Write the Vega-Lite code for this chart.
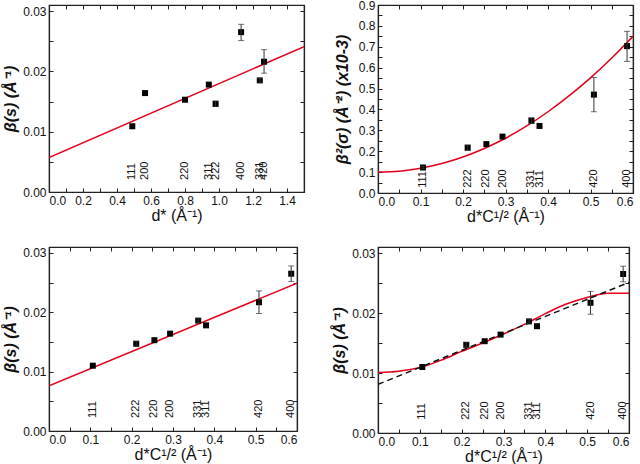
{
  "$schema": "https://vega.github.io/schema/vega-lite/v6.json",
  "padding": {"left": 2, "top": -2, "right": 0, "bottom": 0},
  "background": "white",
  "config": {
    "font": "Liberation Sans",
    "view": {"stroke": "#222", "strokeWidth": 1.2},
    "axis": {"grid": false, "domainColor": "#222", "domainWidth": 1.2, "tickColor": "#222", "tickWidth": 1, "labelFont": "Liberation Sans", "labelFontSize": 12, "labelColor": "#111", "titleFont": "Liberation Sans", "titleFontSize": 16, "titleColor": "#111", "titleFontWeight": "normal", "labelPadding": 7},
    "text": {"font": "Liberation Sans"}
  },
  "datasets": {
    "pa": [
      {"hkl": "111", "x": 0.49, "y": 0.0109},
      {"hkl": "200", "x": 0.565, "y": 0.0164},
      {"hkl": "220", "x": 0.80, "y": 0.0153},
      {"hkl": "311", "x": 0.94, "y": 0.0178},
      {"hkl": "222", "x": 0.98, "y": 0.0146, "lo": 0.0142, "hi": 0.0151},
      {"hkl": "400", "x": 1.13, "y": 0.0265, "lo": 0.0251, "hi": 0.0278},
      {"hkl": "331", "x": 1.24, "y": 0.0185, "lo": 0.0182, "hi": 0.0188},
      {"hkl": "420", "x": 1.265, "y": 0.0216, "lo": 0.0197, "hi": 0.0236}
    ],
    "fa": [{"x": 0, "y": 0.0057}, {"x": 1.5, "y": 0.0241}],
    "pb": [
      {"hkl": "111", "x": 0.106, "y": 0.0110},
      {"hkl": "222", "x": 0.211, "y": 0.0147, "lo": 0.0143, "hi": 0.0151},
      {"hkl": "220", "x": 0.255, "y": 0.0153},
      {"hkl": "200", "x": 0.293, "y": 0.0164},
      {"hkl": "331", "x": 0.361, "y": 0.0186, "lo": 0.0183, "hi": 0.0189},
      {"hkl": "311", "x": 0.380, "y": 0.0178},
      {"hkl": "420", "x": 0.508, "y": 0.0217, "lo": 0.0198, "hi": 0.0236},
      {"hkl": "400", "x": 0.586, "y": 0.0265, "lo": 0.0252, "hi": 0.0278}
    ],
    "fb": [{"x": 0, "y": 0.0076}, {"x": 0.6, "y": 0.0249}],
    "pc": [
      {"hkl": "111", "x": 0.106, "y": 0.122, "lo": 0.116, "hi": 0.127},
      {"hkl": "222", "x": 0.211, "y": 0.217, "lo": 0.205, "hi": 0.229},
      {"hkl": "220", "x": 0.255, "y": 0.234},
      {"hkl": "200", "x": 0.293, "y": 0.270},
      {"hkl": "331", "x": 0.361, "y": 0.346, "lo": 0.333, "hi": 0.360},
      {"hkl": "311", "x": 0.380, "y": 0.321},
      {"hkl": "420", "x": 0.508, "y": 0.471, "lo": 0.389, "hi": 0.553},
      {"hkl": "400", "x": 0.586, "y": 0.703, "lo": 0.630, "hi": 0.774}
    ],
    "fc": [
      {"x": 0, "y": 0.100}, {"x": 0.05, "y": 0.104}, {"x": 0.1, "y": 0.118}, {"x": 0.15, "y": 0.141},
      {"x": 0.2, "y": 0.172}, {"x": 0.25, "y": 0.213}, {"x": 0.3, "y": 0.262}, {"x": 0.35, "y": 0.321},
      {"x": 0.4, "y": 0.389}, {"x": 0.45, "y": 0.466}, {"x": 0.5, "y": 0.551}, {"x": 0.55, "y": 0.646},
      {"x": 0.6, "y": 0.750}
    ],
    "fd": [
      {"x": 0, "y": 0.0101}, {"x": 0.05, "y": 0.0103}, {"x": 0.1, "y": 0.0109}, {"x": 0.15, "y": 0.0121},
      {"x": 0.2, "y": 0.0136}, {"x": 0.25, "y": 0.0150}, {"x": 0.3, "y": 0.0165}, {"x": 0.35, "y": 0.0181},
      {"x": 0.4, "y": 0.0199}, {"x": 0.45, "y": 0.0215}, {"x": 0.5, "y": 0.0226}, {"x": 0.55, "y": 0.0233},
      {"x": 0.6, "y": 0.0233}
    ],
    "fd2": [{"x": 0, "y": 0.0081}, {"x": 0.6, "y": 0.0251}]
  },
  "columns": 2,
  "spacing": {"row": 20, "column": 25},
  "concat": [
    {
      "width": 255, "height": 187,
      "resolve": {"axis": {"x": "independent", "y": "independent"}},
      "layer": [
        {"data": {"name": "fa"}, "mark": {"type": "line", "color": "#e3001b", "strokeWidth": 1.5, "clip": true},
          "encoding": {
            "x": {"field": "x", "type": "quantitative", "scale": {"domain": [0, 1.5], "nice": false},
              "axis": {"orient": "top", "values": [0,0.1,0.2,0.3,0.4,0.5,0.6,0.7,0.8,0.9,1,1.1,1.2,1.3,1.4,1.5], "labels": false, "title": null, "tickSize": -4, "minExtent": 0, "maxExtent": 0}},
            "y": {"field": "y", "type": "quantitative", "scale": {"domain": [0, 0.031], "nice": false},
              "axis": {"orient": "right", "values": [0,0.005,0.01,0.015,0.02,0.025,0.03], "labels": false, "title": null, "tickSize": -4, "minExtent": 0, "maxExtent": 0}}}},
        {"data": {"name": "pa"}, "mark": {"type": "square", "size": 36, "color": "black", "opacity": 1},
          "encoding": {
            "x": {"field": "x", "type": "quantitative",
              "axis": {"orient": "bottom", "values": [0,0.1,0.2,0.3,0.4,0.5,0.6,0.7,0.8,0.9,1,1.1,1.2,1.3,1.4,1.5], "labelExpr": "round(datum.value*10)%2==0 ? format(datum.value,'.1f') : ''", "tickSize": -4, "title": "d* (Å⁻¹)", "titlePadding": 1}},
            "y": {"field": "y", "type": "quantitative",
              "axis": {"orient": "left", "values": [0,0.005,0.01,0.015,0.02,0.025,0.03], "labelExpr": "round(datum.value*1000)%10==0 ? format(datum.value,'.2f') : ''", "tickSize": -4, "title": "β(s)  (Å⁻¹)", "titleFontStyle": "italic", "titleFontWeight": "bold", "titlePadding": 4}}}},
        {"data": {"name": "pa"}, "transform": [{"filter": "isValid(datum.lo)"}],
          "mark": {"type": "errorbar", "ticks": {"size": 6}, "color": "#333", "thickness": 1},
          "encoding": {"x": {"field": "x", "type": "quantitative", "axis": null}, "y": {"field": "lo", "type": "quantitative", "axis": null}, "y2": {"field": "hi"}}},
        {"data": {"name": "pa"}, "mark": {"type": "text", "angle": 270, "align": "left", "baseline": "middle", "fontSize": 11, "color": "#111"},
          "encoding": {"x": {"field": "x", "type": "quantitative", "axis": null}, "y": {"datum": 0.002, "type": "quantitative", "axis": null}, "text": {"field": "hkl"}}},
        {"mark": {"type": "text", "align": "left", "baseline": "middle", "fontSize": 15, "fontWeight": "bold", "color": "#111"},
          "encoding": {"x": {"datum": 0.05, "type": "quantitative", "axis": null}, "y": {"datum": 0.0275, "type": "quantitative", "axis": null}, "text": {"value": "(a)"}}}
      ]
    },
    {
      "width": 255, "height": 188,
      "resolve": {"axis": {"x": "independent", "y": "independent"}},
      "layer": [
        {"data": {"name": "fc"}, "mark": {"type": "line", "color": "#e3001b", "strokeWidth": 1.5, "interpolate": "monotone", "clip": true},
          "encoding": {
            "x": {"field": "x", "type": "quantitative", "scale": {"domain": [0, 0.6], "nice": false},
              "axis": {"orient": "top", "values": [0,0.05,0.1,0.15,0.2,0.25,0.3,0.35,0.4,0.45,0.5,0.55,0.6], "labels": false, "title": null, "tickSize": -4, "minExtent": 0, "maxExtent": 0}},
            "y": {"field": "y", "type": "quantitative", "scale": {"domain": [0, 0.9], "nice": false},
              "axis": {"orient": "right", "values": [0,0.05,0.1,0.15,0.2,0.25,0.3,0.35,0.4,0.45,0.5,0.55,0.6,0.65,0.7,0.75,0.8,0.85,0.9], "labels": false, "title": null, "tickSize": -4, "minExtent": 0, "maxExtent": 0}}}},
        {"data": {"name": "pc"}, "mark": {"type": "square", "size": 36, "color": "black", "opacity": 1},
          "encoding": {
            "x": {"field": "x", "type": "quantitative",
              "axis": {"orient": "bottom", "values": [0,0.05,0.1,0.15,0.2,0.25,0.3,0.35,0.4,0.45,0.5,0.55,0.6], "labelExpr": "round(datum.value*100)%10==0 ? format(datum.value,'.1f') : ''", "tickSize": -4, "title": "d*C¹/² (Å⁻¹)", "titlePadding": 1}},
            "y": {"field": "y", "type": "quantitative",
              "axis": {"orient": "left", "values": [0,0.05,0.1,0.15,0.2,0.25,0.3,0.35,0.4,0.45,0.5,0.55,0.6,0.65,0.7,0.75,0.8,0.85,0.9], "labelExpr": "round(datum.value*100)%10==0 ? format(datum.value,'.1f') : ''", "tickSize": -4, "title": "β²(σ)  (Å⁻²)   (x10-3)", "titleFontStyle": "italic", "titleFontWeight": "bold", "titlePadding": 8}}}},
        {"data": {"name": "pc"}, "transform": [{"filter": "isValid(datum.lo)"}],
          "mark": {"type": "errorbar", "ticks": {"size": 6}, "color": "#333", "thickness": 1},
          "encoding": {"x": {"field": "x", "type": "quantitative", "axis": null}, "y": {"field": "lo", "type": "quantitative", "axis": null}, "y2": {"field": "hi"}}},
        {"data": {"name": "pc"}, "mark": {"type": "text", "angle": 270, "align": "left", "baseline": "middle", "fontSize": 11, "color": "#111"},
          "encoding": {"x": {"field": "x", "type": "quantitative", "axis": null}, "y": {"datum": 0.025, "type": "quantitative", "axis": null}, "text": {"field": "hkl"}}},
        {"mark": {"type": "text", "align": "left", "baseline": "middle", "fontSize": 15, "fontWeight": "bold", "color": "#111"},
          "encoding": {"x": {"datum": 0.02, "type": "quantitative", "axis": null}, "y": {"datum": 0.795, "type": "quantitative", "axis": null}, "text": {"value": "(c)"}}}
      ]
    },
    {
      "width": 248, "height": 184,
      "resolve": {"axis": {"x": "independent", "y": "independent"}},
      "layer": [
        {"data": {"name": "fb"}, "mark": {"type": "line", "color": "#e3001b", "strokeWidth": 1.5, "clip": true},
          "encoding": {
            "x": {"field": "x", "type": "quantitative", "scale": {"domain": [0, 0.6], "nice": false},
              "axis": {"orient": "top", "values": [0,0.05,0.1,0.15,0.2,0.25,0.3,0.35,0.4,0.45,0.5,0.55,0.6], "labels": false, "title": null, "tickSize": -4, "minExtent": 0, "maxExtent": 0}},
            "y": {"field": "y", "type": "quantitative", "scale": {"domain": [0, 0.031], "nice": false},
              "axis": {"orient": "right", "values": [0,0.005,0.01,0.015,0.02,0.025,0.03], "labels": false, "title": null, "tickSize": -4, "minExtent": 0, "maxExtent": 0}}}},
        {"data": {"name": "pb"}, "mark": {"type": "square", "size": 36, "color": "black", "opacity": 1},
          "encoding": {
            "x": {"field": "x", "type": "quantitative",
              "axis": {"orient": "bottom", "values": [0,0.05,0.1,0.15,0.2,0.25,0.3,0.35,0.4,0.45,0.5,0.55,0.6], "labelExpr": "round(datum.value*100)%10==0 ? format(datum.value,'.1f') : ''", "tickSize": -4, "title": "d*C¹/² (Å⁻¹)", "titlePadding": 1}},
            "y": {"field": "y", "type": "quantitative",
              "axis": {"orient": "left", "values": [0,0.005,0.01,0.015,0.02,0.025,0.03], "labelExpr": "round(datum.value*1000)%10==0 ? format(datum.value,'.2f') : ''", "tickSize": -4, "title": "β(s)  (Å⁻¹)", "titleFontStyle": "italic", "titleFontWeight": "bold", "titlePadding": 4}}}},
        {"data": {"name": "pb"}, "transform": [{"filter": "isValid(datum.lo)"}],
          "mark": {"type": "errorbar", "ticks": {"size": 6}, "color": "#333", "thickness": 1},
          "encoding": {"x": {"field": "x", "type": "quantitative", "axis": null}, "y": {"field": "lo", "type": "quantitative", "axis": null}, "y2": {"field": "hi"}}},
        {"data": {"name": "pb"}, "mark": {"type": "text", "angle": 270, "align": "left", "baseline": "middle", "fontSize": 11, "color": "#111"},
          "encoding": {"x": {"field": "x", "type": "quantitative", "axis": null}, "y": {"datum": 0.0022, "type": "quantitative", "axis": null}, "text": {"field": "hkl"}}},
        {"mark": {"type": "text", "align": "left", "baseline": "middle", "fontSize": 15, "fontWeight": "bold", "color": "#111"},
          "encoding": {"x": {"datum": 0.02, "type": "quantitative", "axis": null}, "y": {"datum": 0.0275, "type": "quantitative", "axis": null}, "text": {"value": "(b)"}}}
      ]
    },
    {
      "width": 251, "height": 186,
      "resolve": {"axis": {"x": "independent", "y": "independent"}},
      "layer": [
        {"data": {"name": "fd"}, "mark": {"type": "line", "color": "#e3001b", "strokeWidth": 1.5, "interpolate": "monotone", "clip": true},
          "encoding": {
            "x": {"field": "x", "type": "quantitative", "scale": {"domain": [0, 0.6], "nice": false},
              "axis": {"orient": "top", "values": [0,0.05,0.1,0.15,0.2,0.25,0.3,0.35,0.4,0.45,0.5,0.55,0.6], "labels": false, "title": null, "tickSize": -4, "minExtent": 0, "maxExtent": 0}},
            "y": {"field": "y", "type": "quantitative", "scale": {"domain": [0, 0.031], "nice": false},
              "axis": {"orient": "right", "values": [0,0.005,0.01,0.015,0.02,0.025,0.03], "labels": false, "title": null, "tickSize": -4, "minExtent": 0, "maxExtent": 0}}}},
        {"data": {"name": "fd2"}, "mark": {"type": "line", "color": "#111", "strokeWidth": 1.5, "strokeDash": [6, 4], "clip": true},
          "encoding": {"x": {"field": "x", "type": "quantitative", "axis": null}, "y": {"field": "y", "type": "quantitative", "axis": null}}},
        {"data": {"name": "pb"}, "mark": {"type": "square", "size": 36, "color": "black", "opacity": 1},
          "encoding": {
            "x": {"field": "x", "type": "quantitative",
              "axis": {"orient": "bottom", "values": [0,0.05,0.1,0.15,0.2,0.25,0.3,0.35,0.4,0.45,0.5,0.55,0.6], "labelExpr": "round(datum.value*100)%10==0 ? format(datum.value,'.1f') : ''", "tickSize": -4, "title": "d*C¹/² (Å⁻¹)", "titlePadding": 1}},
            "y": {"field": "y", "type": "quantitative",
              "axis": {"orient": "left", "values": [0,0.005,0.01,0.015,0.02,0.025,0.03], "labelExpr": "round(datum.value*1000)%10==0 ? format(datum.value,'.2f') : ''", "tickSize": -4, "title": "β(s)  (Å⁻¹)", "titleFontStyle": "italic", "titleFontWeight": "bold", "titlePadding": 4}}}},
        {"data": {"name": "pb"}, "transform": [{"filter": "isValid(datum.lo)"}],
          "mark": {"type": "errorbar", "ticks": {"size": 6}, "color": "#333", "thickness": 1},
          "encoding": {"x": {"field": "x", "type": "quantitative", "axis": null}, "y": {"field": "lo", "type": "quantitative", "axis": null}, "y2": {"field": "hi"}}},
        {"data": {"name": "pb"}, "mark": {"type": "text", "angle": 270, "align": "left", "baseline": "middle", "fontSize": 11, "color": "#111"},
          "encoding": {"x": {"field": "x", "type": "quantitative", "axis": null}, "y": {"datum": 0.0022, "type": "quantitative", "axis": null}, "text": {"field": "hkl"}}},
        {"mark": {"type": "text", "align": "left", "baseline": "middle", "fontSize": 15, "fontWeight": "bold", "color": "#111"},
          "encoding": {"x": {"datum": 0.02, "type": "quantitative", "axis": null}, "y": {"datum": 0.0275, "type": "quantitative", "axis": null}, "text": {"value": "(d)"}}}
      ]
    }
  ]
}
